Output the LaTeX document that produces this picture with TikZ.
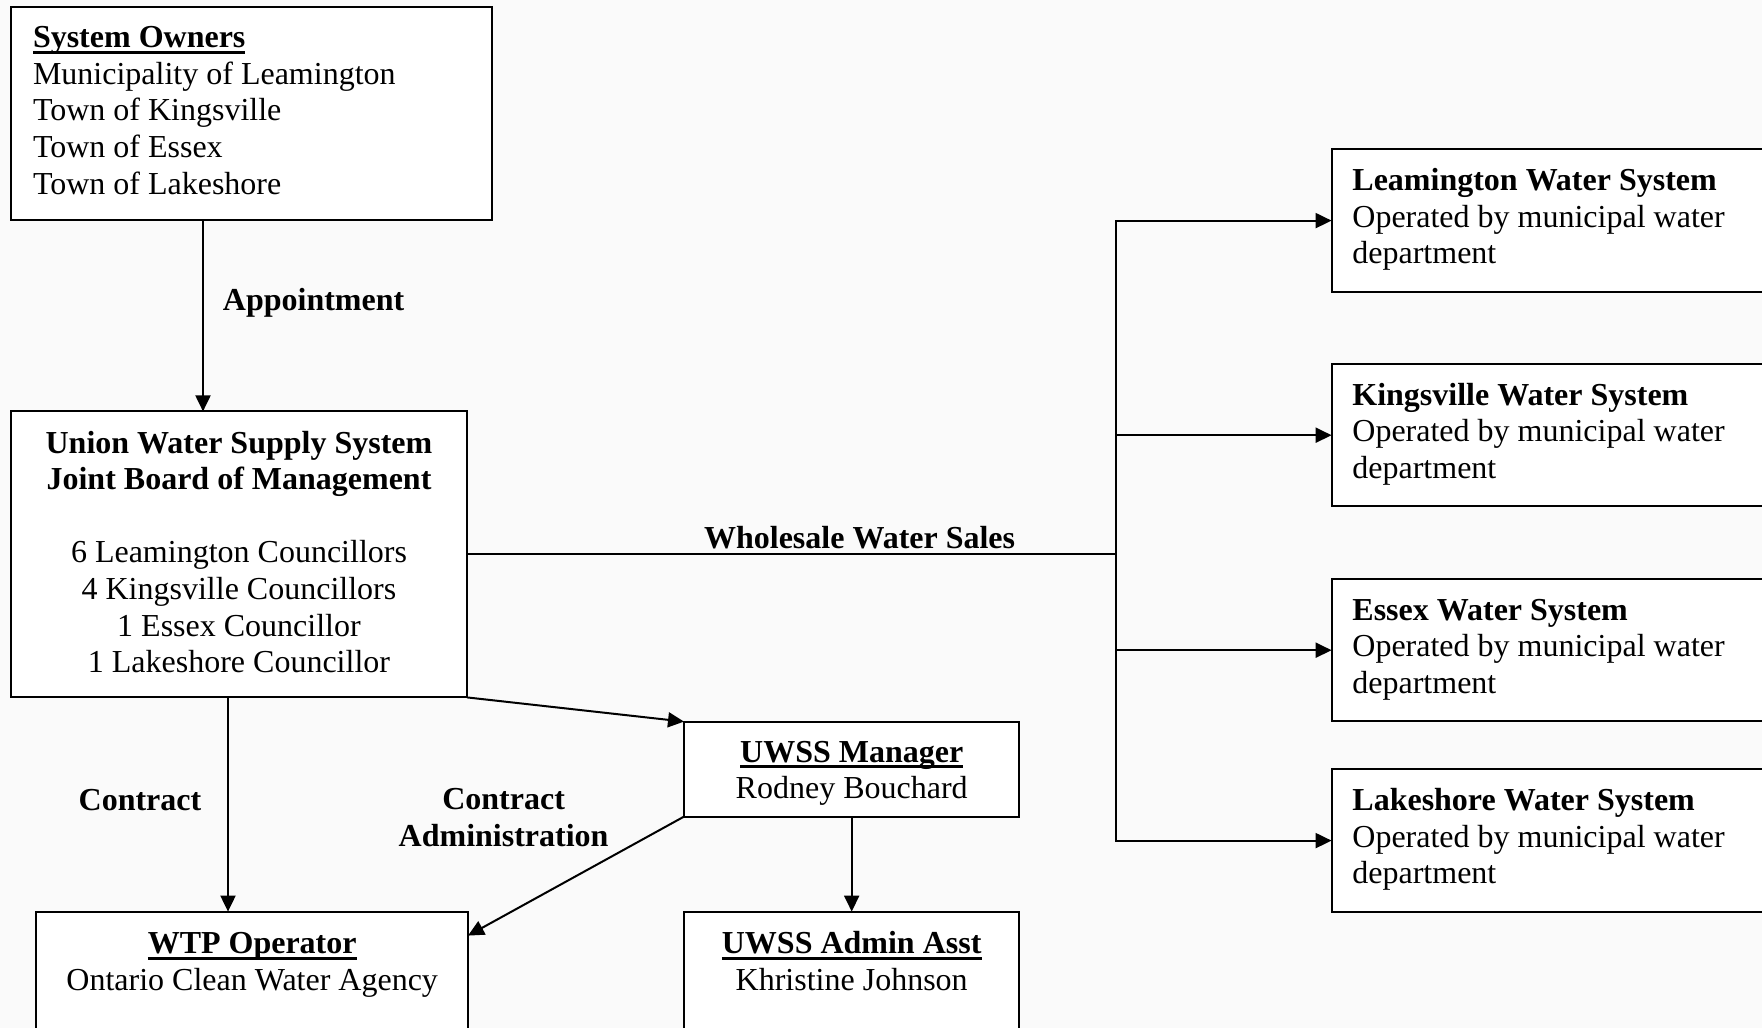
\documentclass[tikz,border=0pt]{standalone}
\usepackage{fontspec}
\setmainfont{Liberation Serif}
\usetikzlibrary{arrows.meta,calc}
\newsavebox\ulbox
\newcommand\uln[1]{\leavevmode\sbox\ulbox{#1}\rlap{\rule[-3pt]{\wd\ulbox}{1.5pt}}\usebox\ulbox}
\newcommand\bxc[5]{\parbox[t][#2][t]{#1}{\fontsize{16}{18.3}\selectfont#3\rule{0pt}{#4}#5}}
\tikzset{
  box/.style={draw=black, line width=1pt, fill=white, anchor=north west, inner ysep=0pt, outer sep=0pt},
  conn/.style={line width=1pt},
  arr/.style={conn, -{Triangle[length=8pt,width=7.5pt]}},
  lbl/.style={font=\fontsize{16}{18.3}\selectfont\bfseries, inner sep=0pt, align=center},
}
\begin{document}
\begin{tikzpicture}[x=1pt,y=-1pt]
\fill[gray!4] (0,0) rectangle (881,514);
\useasboundingbox (0,0) rectangle (881,514);

\node[box, inner xsep=11pt] (own) at (5.5,3.5) {\bxc{218.5pt}{106.5pt}{\raggedright}{20.4pt}{\textbf{\uln{System Owners}}\\Municipality of Leamington\\Town of Kingsville\\Town of Essex\\Town of Lakeshore}};

\node[box, inner xsep=5pt] (board) at (5.5,205.7) {\bxc{218pt}{143pt}{\centering}{20.8pt}{\textbf{Union Water Supply System\\Joint Board of Management}\\[18.3pt]6 Leamington Councillors\\4 Kingsville Councillors\\1 Essex Councillor\\1 Lakeshore Councillor}};

\node[box, inner xsep=10.4pt] (lws) at (665.8,74.7) {\bxc{203pt}{71.2pt}{\raggedright}{20.6pt}{\textbf{Leamington Water System}\\Operated by municipal water\\department}};
\node[box, inner xsep=10.4pt] (kws) at (665.8,182) {\bxc{203pt}{71.2pt}{\raggedright}{20.6pt}{\textbf{Kingsville Water System}\\Operated by municipal water\\department}};
\node[box, inner xsep=10.4pt] (ews) at (665.8,289.5) {\bxc{203pt}{71.2pt}{\raggedright}{20.6pt}{\textbf{Essex Water System}\\Operated by municipal water\\department}};
\node[box, inner xsep=10.4pt] (law) at (665.8,384.7) {\bxc{203pt}{71.2pt}{\raggedright}{20.6pt}{\textbf{Lakeshore Water System}\\Operated by municipal water\\department}};

\node[box, inner xsep=5pt] (mgr) at (342,360.8) {\bxc{157.7pt}{47.5pt}{\centering}{20.2pt}{\textbf{\uln{UWSS Manager}}\\Rodney Bouchard}};
\node[box, inner xsep=5pt] (wtp) at (18.2,455.8) {\bxc{205.8pt}{70pt}{\centering}{21pt}{\textbf{\uln{WTP Operator}}\\Ontario Clean Water Agency}};
\node[box, inner xsep=5pt] (adm) at (342,455.8) {\bxc{157.7pt}{70pt}{\centering}{21pt}{\textbf{\uln{UWSS Admin Asst}}\\Khristine Johnson}};

% connectors
\coordinate (ax) at (101.5,0);
\draw[arr] (own.south -| ax) -- (board.north -| ax);
\node[lbl, anchor=base] (lappt) at (156.8,155.2) {Appointment};

\coordinate (spine) at (558,0);
\draw[conn] (board.east) -- (board.east -| spine);
\draw[arr] (board.east -| spine) |- (lws.west);
\draw[arr] (board.east -| spine) |- (law.west);
\draw[arr] (kws.west -| spine) -- (kws.west);
\draw[arr] (ews.west -| spine) -- (ews.west);
\node[lbl, anchor=base] (lsales) at (429.8,274.2) {Wholesale Water Sales};

\coordinate (cx) at (114,0);
\draw[arr] (board.south -| cx) -- (wtp.north -| cx);
\node[lbl, anchor=base] (lcontract) at (70,405) {Contract};
\node[lbl, anchor=center] (ladmin) at (251.8,408.8) {Contract\\Administration};

\draw[arr] (board.south east) -- (mgr.north west);
\draw[arr] (mgr.south west) -- ($(wtp.north east)+(0,12)$);
\draw[arr] (mgr.south) -- (adm.north);
\end{tikzpicture}
\end{document}
